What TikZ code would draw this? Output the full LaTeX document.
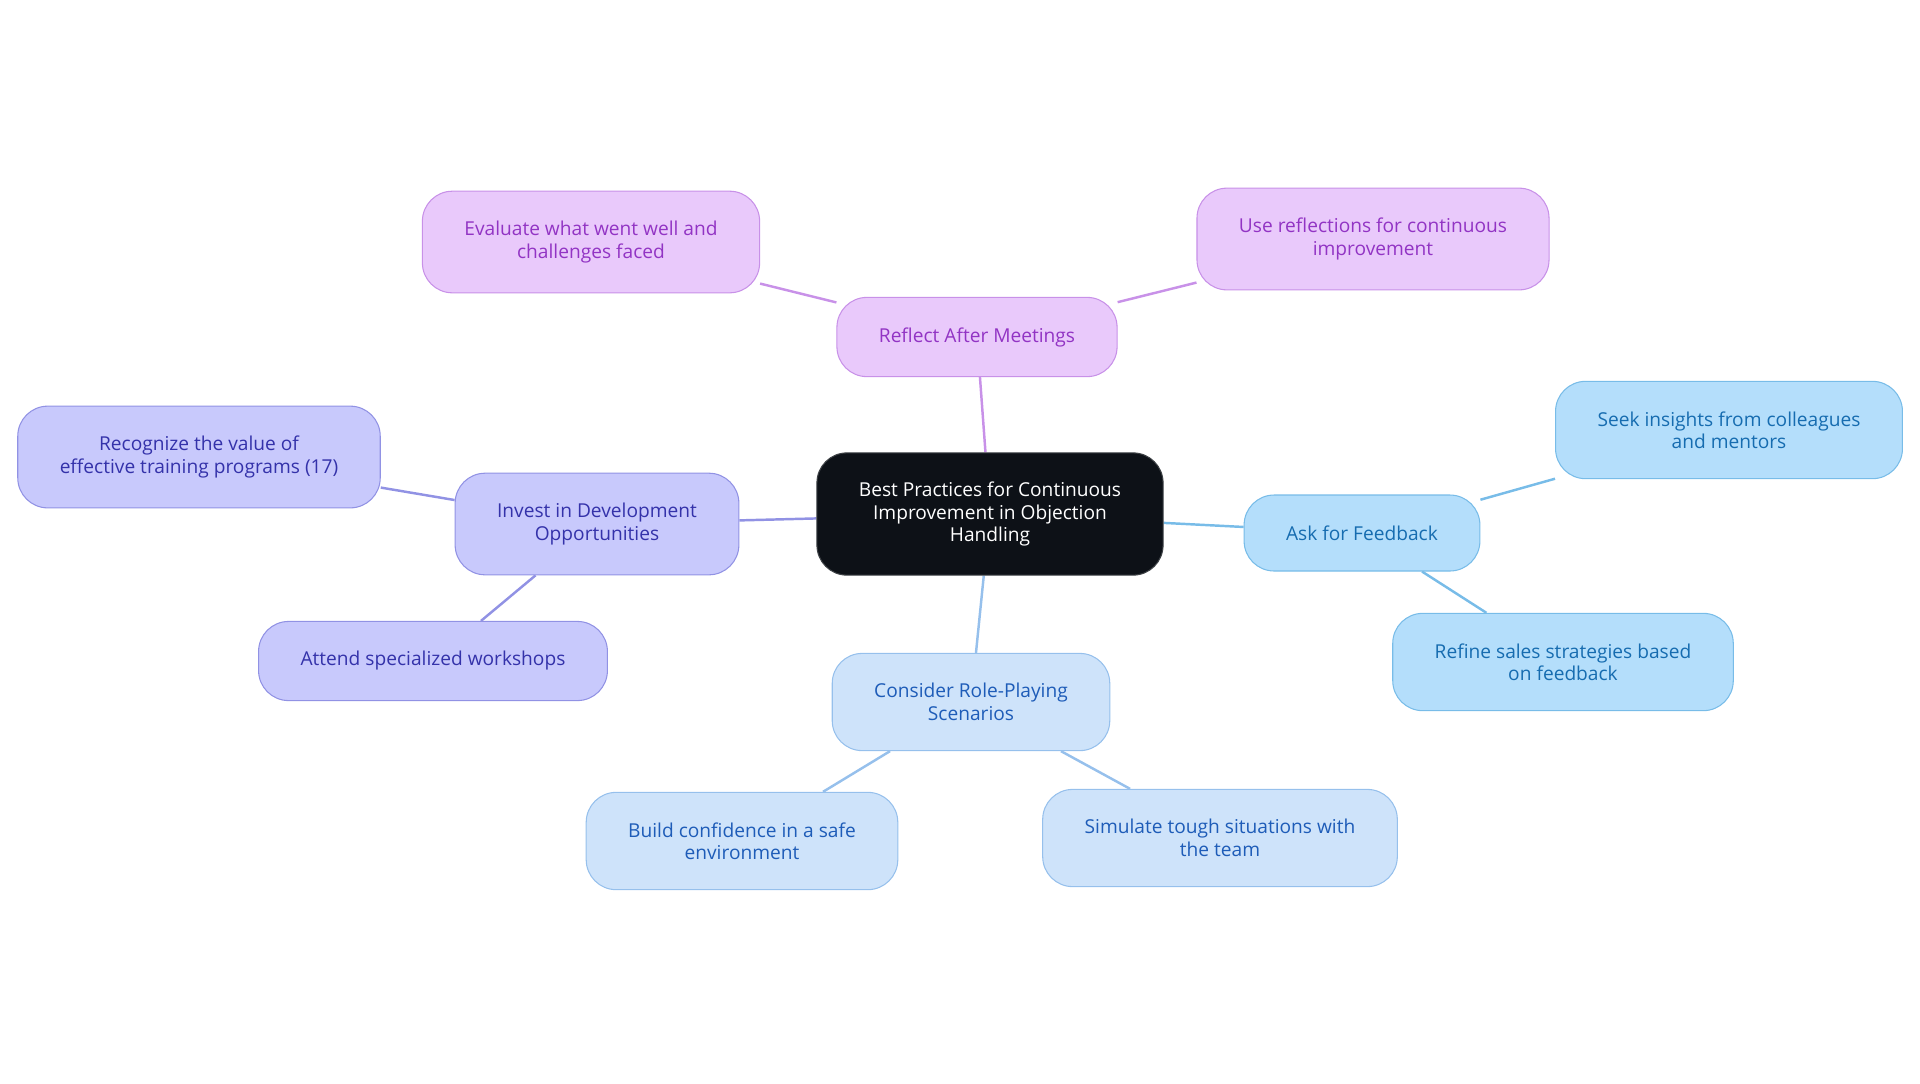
\documentclass[tikz,border=0pt]{standalone}
\usepackage{fontspec}
\setmainfont{Open Sans}
\usepackage{tikz}
\usetikzlibrary{backgrounds}
\definecolor{MMDark}{RGB}{13,17,23}
\definecolor{MMPurpleFill}{RGB}{233,201,251}
\definecolor{MMPurpleLine}{RGB}{200,145,232}
\definecolor{MMPurpleText}{RGB}{146,52,196}
\definecolor{MMSkyFill}{RGB}{180,222,251}
\definecolor{MMSkyLine}{RGB}{120,188,232}
\definecolor{MMSkyText}{RGB}{22,108,176}
\definecolor{MMPaleFill}{RGB}{206,227,250}
\definecolor{MMPaleLine}{RGB}{150,192,236}
\definecolor{MMPaleText}{RGB}{30,92,184}
\definecolor{MMIndigoFill}{RGB}{200,201,252}
\definecolor{MMIndigoLine}{RGB}{145,146,228}
\definecolor{MMIndigoText}{RGB}{52,50,170}

\begin{document}
\begin{tikzpicture}[x=0.02cm, y=-0.02cm,
          topic/.style={rectangle, rounded corners=0.6cm, draw, line width=0.6pt,
                        inner xsep=0.84cm, inner ysep=0.6cm, minimum height=1.52cm,
                        align=center, font=\fontsize{10.9}{12.8}\selectfont},
          root/.style={topic, fill=MMDark, draw=MMDark!80, text=white, inner ysep=0.58cm},
          purple/.style={topic, fill=MMPurpleFill, draw=MMPurpleLine, text=MMPurpleText},
          sky/.style={topic, fill=MMSkyFill, draw=MMSkyLine, text=MMSkyText},
          pale/.style={topic, fill=MMPaleFill, draw=MMPaleLine, text=MMPaleText},
          indigo/.style={topic, fill=MMIndigoFill, draw=MMIndigoLine, text=MMIndigoText},
          link/.style={line width=1.4pt}
        ]
        \useasboundingbox (0,0) rectangle (1920,1083);

        % centre
        \node[root] (best) at (990,514) {Best Practices for Continuous\\Improvement in Objection\\Handling};

        % reflect branch
        \node[purple] (reflect) at (977,337) {Reflect After Meetings};
        \node[purple] (evaluate) at (591,242) {Evaluate what went well and\\challenges faced};
        \node[purple] (usereflect) at (1373,239) {Use reflections for continuous\\improvement};

        % feedback branch
        \node[sky] (feedback) at (1362,533) {Ask for Feedback};
        \node[sky] (seek) at (1729,430) {Seek insights from colleagues\\and mentors};
        \node[sky] (refine) at (1563,662) {Refine sales strategies based\\on feedback};

        % role-play branch
        \node[pale] (roleplay) at (971,702) {Consider Role-Playing\\Scenarios};
        \node[pale] (confidence) at (742,841) {Build confidence in a safe\\environment};
        \node[pale] (simulate) at (1220,838) {Simulate tough situations with\\the team};

        % development branch
        \node[indigo] (invest) at (597,524) {Invest in Development\\Opportunities};
        \node[indigo] (recognize) at (199,457) {Recognize the value of\\effective training programs (17)};
        \node[indigo] (attend) at (433,661) {Attend specialized workshops};

        \begin{scope}[on background layer]
          \draw[link, MMPurpleLine] (best) -- (reflect);
          \draw[link, MMPurpleLine] (reflect) -- (evaluate);
          \draw[link, MMPurpleLine] (reflect) -- (usereflect);
          \draw[link, MMSkyLine] (best) -- (feedback);
          \draw[link, MMSkyLine] (feedback) -- (seek);
          \draw[link, MMSkyLine] (feedback) -- (refine);
          \draw[link, MMPaleLine] (best) -- (roleplay);
          \draw[link, MMPaleLine] (roleplay) -- (confidence);
          \draw[link, MMPaleLine] (roleplay) -- (simulate);
          \draw[link, MMIndigoLine] (best) -- (invest);
          \draw[link, MMIndigoLine] (invest) -- (recognize);
          \draw[link, MMIndigoLine] (invest) -- (attend);
        \end{scope}
      \end{tikzpicture}
\end{document}
